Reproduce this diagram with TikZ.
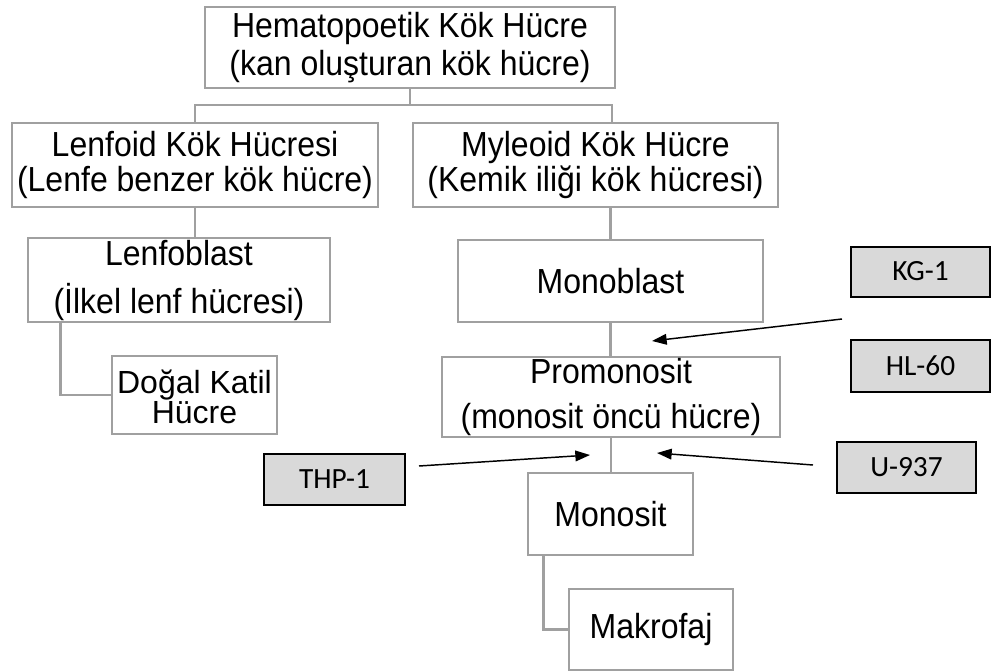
\documentclass[tikz,border=0pt]{standalone}
\usepackage{fontspec}
\setmainfont{Liberation Sans}
\newfontfamily\tallfont{Liberation Sans}[FakeStretch=0.92]
\newfontfamily\carlitofont{Carlito}
\usetikzlibrary{arrows.meta}
\definecolor{boxgray}{RGB}{160,160,160}
\definecolor{fillgray}{RGB}{217,217,217}
\begin{document}
\begin{tikzpicture}[x=0.75pt,y=-0.75pt,
  wh/.style 2 args={minimum width={#1*0.75pt},minimum height={#2*0.75pt}},
  cellbox/.style={draw=boxgray, line width=1.8pt, fill=white, align=center, inner sep=0pt},
  pitch/.style={font=\tallfont\fontsize{26.1}{#1}\selectfont},
  linebox/.style={draw=black, line width=1.8pt, fill=fillgray, inner sep=0pt, text depth=1pt,
    font=\carlitofont\fontsize{22}{26}\selectfont},
  conn/.style={draw=boxgray, line width=2pt},
  pointer/.style={draw=black, line width=1.1pt, -{Triangle[length=11pt,width=8pt]}}]
\useasboundingbox (0,0) rectangle (992,671);

% boxes
\node[cellbox, pitch=28.5, wh={410}{81}] (top) at (410,47.5) {Hematopoetik Kök Hücre\\(kan oluşturan kök hücre)};
\node[cellbox, pitch=26.5, wh={366}{84}] (lenfoid) at (195,165) {Lenfoid Kök Hücresi\\(Lenfe benzer kök hücre)};
\node[cellbox, pitch=26.5, wh={365}{84}] (myleoid) at (595.5,165) {Myleoid Kök Hücre\\(Kemik iliği kök hücresi)};
\node[cellbox, pitch=36, wh={302}{84}] (lenfoblast) at (179,280) {Lenfoblast\\(İlkel lenf hücresi)};
\node[cellbox, font=\fontsize{24}{19}\selectfont, wh={165}{78}] (dogal) at (194.5,395) {\rule{0pt}{20pt}Doğal Katil\\Hücre};
\node[cellbox, pitch=28, wh={305}{82}] (monoblast) at (610.5,281) {Monoblast};
\node[cellbox, pitch=34, wh={338}{80}] (promonosit) at (611,397) {Promonosit\\(monosit öncü hücre)};
\node[cellbox, pitch=28, wh={165}{82}] (monosit) at (610.5,514) {Monosit};
\node[cellbox, pitch=28, wh={164}{81}] (makrofaj) at (651,629.5) {Makrofaj};

\node[linebox, wh={139}{50}] (kg) at (920.5,272) {KG-1};
\node[linebox, wh={139}{52}] (hl) at (920.5,366) {HL-60};
\node[linebox, wh={139}{51}] (u) at (906.5,467.5) {U-937};
\node[linebox, wh={141}{51}] (thp) at (334.5,479.5) {THP-1};

% tree connectors
\coordinate (bus) at (412,105);
\coordinate (mdrop) at (612,105);
\draw[conn] (top.south) -- (top.south |- bus);
\draw[conn] (lenfoid.north) -- (lenfoid.north |- bus) -- (mdrop) -- (mdrop |- myleoid.north);
\draw[conn] (lenfoid.south) -- (lenfoid.south |- lenfoblast.north);
\draw[conn] (lenfoblast.south west) ++(34,0) |- (dogal.west);
\draw[conn] (monoblast.north) -- (monoblast.north |- myleoid.south);
\draw[conn] (monoblast.south) -- (monoblast.south |- promonosit.north);
\draw[conn] (promonosit.south) -- (promonosit.south |- monosit.north);
\draw[conn] (monosit.south west) ++(17,0) |- (makrofaj.west);

% pointers
\coordinate (kgs) at (842,319);
\coordinate (kge) at (652,341);
\coordinate (us) at (813,465);
\coordinate (ue) at (657,453);
\coordinate (ts) at (419,466);
\coordinate (te) at (590,455);
\draw[pointer] (kgs) -- (kge);
\draw[pointer] (us) -- (ue);
\draw[pointer] (ts) -- (te);
\end{tikzpicture}
\end{document}
